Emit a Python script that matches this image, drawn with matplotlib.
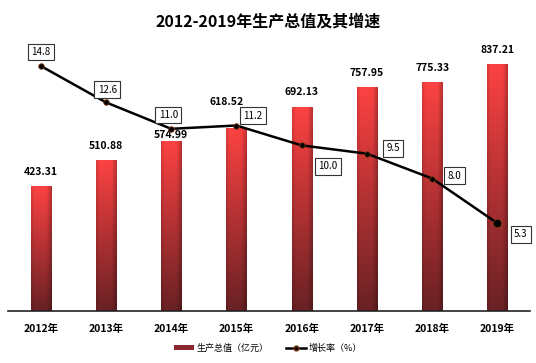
import numpy as np
import matplotlib
matplotlib.use("Agg")
import matplotlib.pyplot as plt
from matplotlib.lines import Line2D
from matplotlib.patches import Patch

plt.rcParams['font.family'] = ['Noto Sans CJK SC', 'DejaVu Sans']

years = ["2012年", "2013年", "2014年", "2015年", "2016年", "2017年", "2018年", "2019年"]
gdp = [423.31, 510.88, 574.99, 618.52, 692.13, 757.95, 775.33, 837.21]
growth = [14.8, 12.6, 11.0, 11.2, 10.0, 9.5, 8.0, 5.3]
# label offsets in points (styling)
bar_lbl_off = [(0, 7), (0, 7), (0, 1), (-7, 16), (0, 7), (0, 7), (0, 7), (0, 7)]
line_lbl_off = [(0, 10), (1, 9), (-2, 10), (12, 7), (19, -15), (19, 4), (16, 2), (17, -8)]

fig = plt.figure(figsize=(5.36, 3.63), dpi=100)
ax = fig.add_axes([8/536, 52/363, 522/536, 265/363])
x = np.arange(len(years))
w = 0.31

# vertical + horizontal gradient for bars
ny, nx = 100, 20
t = np.linspace(0, 1, ny)[:, None]  # 0 bottom -> 1 top
top = np.array([252, 66, 66]) / 255
bot = np.array([105, 33, 36]) / 255
grad = bot + (top - bot) * t[..., None]
grad = np.repeat(grad, nx, axis=1)
h = np.linspace(0, 1, nx)
shade = 1 - 0.25 * np.clip((h - 0.75) / 0.25, 0, 1) - 0.12 * np.clip((0.15 - h) / 0.15, 0, 1)
grad = grad * shade[None, :, None]

for xi, v in zip(x, gdp):
    ax.imshow(grad, extent=[xi - w/2, xi + w/2, 0, v], origin='lower',
              aspect='auto', zorder=2, interpolation='bilinear')

for xi, v, off in zip(x, gdp, bar_lbl_off):
    ax.annotate(f"{v:.2f}", (xi, v), xytext=off, textcoords='offset points',
                ha='center', va='bottom', fontsize=7.5, fontweight='bold', zorder=3)

ax.set_xlim(-0.5, len(years) - 0.5)
ax.set_ylim(0, 900)
ax.set_xticks(x)
ax.set_xticklabels(years, fontsize=7.5, fontweight='bold')
ax.tick_params(axis='x', length=0, pad=9)
ax.set_yticks([])
for s in ['top', 'right', 'left']:
    ax.spines[s].set_visible(False)
ax.spines['bottom'].set_color('#222222')
ax.spines['bottom'].set_linewidth(1.2)

ax2 = ax.twinx()
ax2.set_ylim(0, 16)
ax2.set_yticks([])
for s in ax2.spines.values():
    s.set_visible(False)
ax2.plot(x, growth, color='black', lw=1.8, zorder=4)
sizes = [4, 4, 4, 4, 4, 4, 4, 6]
for xi, g, ms in zip(x, growth, sizes):
    ax2.plot(xi, g, 'o', ms=ms, mfc='black', mec='#7a3a10', mew=0.6, zorder=5)
for xi, g, off in zip(x, growth, line_lbl_off):
    ax2.annotate(f"{g:.1f}", (xi, g), xytext=off, textcoords='offset points',
                 ha='center', va='center', fontsize=7, zorder=6,
                 bbox=dict(boxstyle='square,pad=0.35', fc='white', ec='#333333', lw=0.8))

fig.text(0.5, 1 - 22/363, "2012-2019年生产总值及其增速", ha='center', va='center',
         fontsize=11.5, fontweight='bold')

handles = [Patch(facecolor='#8a2a2e', edgecolor='none'),
           Line2D([0], [0], color='black', lw=1.8, marker='o', ms=3.5, mfc='black', mec='#7a3a10')]
fig.legend(handles, ["生产总值（亿元）", "增长率（%）"], loc='center',
           bbox_to_anchor=(0.5, 1 - 348/363), ncol=2, frameon=False, fontsize=6.5,
           handlelength=2.2, handleheight=0.6, columnspacing=2.0, handletextpad=0.3)

fig.savefig("out.png", dpi=100)
